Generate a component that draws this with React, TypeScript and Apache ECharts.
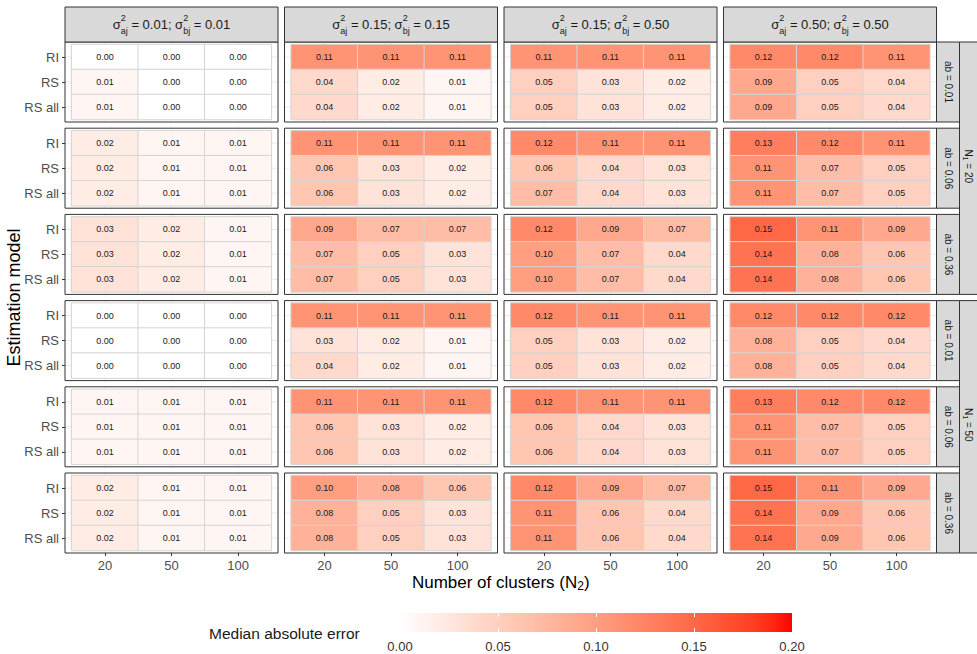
import React, { useEffect, useRef } from 'react';
import * as echarts from 'echarts';

// ---------- data ----------
const clusterSizes = ['20', '50', '100'];
const models = ['RI', 'RS', 'RS all'];
const sigmaAj = ['0.01', '0.15', '0.15', '0.50'];
const sigmaBj = ['0.01', '0.15', '0.50', '0.50'];
const abLabels = ['0.01', '0.06', '0.36'];
const n1Labels = ['20', '50'];
const legendBreaks = [0, 0.05, 0.1, 0.15, 0.2];

// each facet row: 4 panels (variance columns); each panel: rows RI, RS, RS all; values for N2 = 20, 50, 100
const n1_20_ab001 = [
  [[0.00, 0.00, 0.00], [0.01, 0.00, 0.00], [0.01, 0.00, 0.00]],
  [[0.11, 0.11, 0.11], [0.04, 0.02, 0.01], [0.04, 0.02, 0.01]],
  [[0.11, 0.11, 0.11], [0.05, 0.03, 0.02], [0.05, 0.03, 0.02]],
  [[0.12, 0.12, 0.11], [0.09, 0.05, 0.04], [0.09, 0.05, 0.04]],
];
const n1_20_ab006 = [
  [[0.02, 0.01, 0.01], [0.02, 0.01, 0.01], [0.02, 0.01, 0.01]],
  [[0.11, 0.11, 0.11], [0.06, 0.03, 0.02], [0.06, 0.03, 0.02]],
  [[0.12, 0.11, 0.11], [0.06, 0.04, 0.03], [0.07, 0.04, 0.03]],
  [[0.13, 0.12, 0.11], [0.11, 0.07, 0.05], [0.11, 0.07, 0.05]],
];
const n1_20_ab036 = [
  [[0.03, 0.02, 0.01], [0.03, 0.02, 0.01], [0.03, 0.02, 0.01]],
  [[0.09, 0.07, 0.07], [0.07, 0.05, 0.03], [0.07, 0.05, 0.03]],
  [[0.12, 0.09, 0.07], [0.10, 0.07, 0.04], [0.10, 0.07, 0.04]],
  [[0.15, 0.11, 0.09], [0.14, 0.08, 0.06], [0.14, 0.08, 0.06]],
];
const n1_50_ab001 = [
  [[0.00, 0.00, 0.00], [0.00, 0.00, 0.00], [0.00, 0.00, 0.00]],
  [[0.11, 0.11, 0.11], [0.03, 0.02, 0.01], [0.04, 0.02, 0.01]],
  [[0.12, 0.11, 0.11], [0.05, 0.03, 0.02], [0.05, 0.03, 0.02]],
  [[0.12, 0.12, 0.12], [0.08, 0.05, 0.04], [0.08, 0.05, 0.04]],
];
const n1_50_ab006 = [
  [[0.01, 0.01, 0.01], [0.01, 0.01, 0.01], [0.01, 0.01, 0.01]],
  [[0.11, 0.11, 0.11], [0.06, 0.03, 0.02], [0.06, 0.03, 0.02]],
  [[0.12, 0.11, 0.11], [0.06, 0.04, 0.03], [0.06, 0.04, 0.03]],
  [[0.13, 0.12, 0.12], [0.11, 0.07, 0.05], [0.11, 0.07, 0.05]],
];
const n1_50_ab036 = [
  [[0.02, 0.01, 0.01], [0.02, 0.01, 0.01], [0.02, 0.01, 0.01]],
  [[0.10, 0.08, 0.06], [0.08, 0.05, 0.03], [0.08, 0.05, 0.03]],
  [[0.12, 0.09, 0.07], [0.11, 0.06, 0.04], [0.11, 0.06, 0.04]],
  [[0.15, 0.11, 0.09], [0.14, 0.09, 0.06], [0.14, 0.09, 0.06]],
];
const facetRows = [n1_20_ab001, n1_20_ab006, n1_20_ab036, n1_50_ab001, n1_50_ab006, n1_50_ab036];

// ---------- layout / style ----------
const FONT = '"Liberation Sans", Arial, Helvetica, sans-serif';
const P_LEFT = 65;
const P_STEP_X = 219.5;
const P_W = 213;
const P_TOP = 42;
const P_STEP_Y = 86.2;
const P_H = 80;
const PAD_X = P_W / 32; // 0.1 of 3.2 discrete units
const PAD_Y = P_H / 32;
const STRIP_TOP = 7;
const STRIP_R_W = 23;
const BORDER = '#333333';
const STRIP_FILL = '#D9D9D9';
const GRID_LINE = '#EBEBEB';
const TEXT_Z = 10;

// ---------- colour scale: white -> red interpolated in CIELAB ----------
function toLin(c: number) {
  c /= 255;
  return c <= 0.04045 ? c / 12.92 : Math.pow((c + 0.055) / 1.055, 2.4);
}
function fromLin(c: number) {
  const v = c <= 0.0031308 ? 12.92 * c : 1.055 * Math.pow(c, 1 / 2.4) - 0.055;
  return Math.max(0, Math.min(255, Math.round(v * 255)));
}
function rgb2lab(r: number, g: number, b: number) {
  const R = toLin(r), G = toLin(g), B = toLin(b);
  const X = (0.4124564 * R + 0.3575761 * G + 0.1804375 * B) / 0.95047;
  const Y = 0.2126729 * R + 0.7151522 * G + 0.072175 * B;
  const Z = (0.0193339 * R + 0.119192 * G + 0.9503041 * B) / 1.08883;
  const f = (t: number) => (t > 0.008856 ? Math.cbrt(t) : 7.787 * t + 16 / 116);
  const fx = f(X), fy = f(Y), fz = f(Z);
  return [116 * fy - 16, 500 * (fx - fy), 200 * (fy - fz)];
}
function lab2hex(L: number, a: number, b: number) {
  const fy = (L + 16) / 116;
  const fx = fy + a / 500;
  const fz = fy - b / 200;
  const inv = (f: number) => (f * f * f > 0.008856 ? f * f * f : (f - 16 / 116) / 7.787);
  const X = inv(fx) * 0.95047, Y = inv(fy), Z = inv(fz) * 1.08883;
  const R = 3.2404542 * X - 1.5371385 * Y - 0.4985314 * Z;
  const G = -0.969266 * X + 1.8760108 * Y + 0.041556 * Z;
  const B = 0.0556434 * X - 0.2040259 * Y + 1.0572252 * Z;
  const h = (v: number) => fromLin(Math.max(0, v)).toString(16).padStart(2, '0');
  return '#' + h(R) + h(G) + h(B);
}
const LOW = rgb2lab(255, 255, 255);
const HIGH = rgb2lab(255, 0, 0);
const rampColors: string[] = [];
for (let i = 0; i <= 20; i++) {
  const t = i / 20;
  rampColors.push(lab2hex(LOW[0] + (HIGH[0] - LOW[0]) * t, LOW[1] + (HIGH[1] - LOW[1]) * t, LOW[2] + (HIGH[2] - LOW[2]) * t));
}

// ---------- text helpers ----------
let measureCtx: CanvasRenderingContext2D | null = null;
function textWidth(t: string, size: number) {
  if (!measureCtx) measureCtx = document.createElement('canvas').getContext('2d');
  if (!measureCtx) return t.length * size * 0.55;
  measureCtx.font = `${size}px "Liberation Sans", Arial, sans-serif`;
  return measureCtx.measureText(t).width;
}

type Piece =
  | { text: string; size: number; dy?: number }
  | { sup: string; sub: string; size: number; supDy: number; subDy: number };

function textEl(text: string, x: number, y: number, size: number, fill: string, align = 'left') {
  return {
    type: 'text',
    x,
    y,
    z: TEXT_Z,
    silent: true,
    style: {
      text,
      fontSize: size,
      fontFamily: FONT,
      fill,
      align,
      verticalAlign: 'middle',
      textAlign: align,
      textVerticalAlign: 'middle',
    },
  };
}

function composite(pieces: Piece[], cx: number, cy: number, rotation: number, fill: string) {
  const widths = pieces.map((p: any) =>
    'sup' in p ? Math.max(textWidth(p.sup, p.size), textWidth(p.sub, p.size)) : textWidth(p.text, p.size)
  );
  const total = widths.reduce((s, w) => s + w, 0);
  let cursor = -total / 2;
  const children: any[] = [];
  pieces.forEach((p: any, i) => {
    if ('sup' in p) {
      children.push(textEl(p.sup, cursor, p.supDy, p.size, fill));
      children.push(textEl(p.sub, cursor, p.subDy, p.size, fill));
    } else {
      children.push(textEl(p.text, cursor, p.dy || 0, p.size, fill));
    }
    cursor += widths[i];
  });
  return { type: 'group', x: cx, y: cy, rotation, z: TEXT_Z, silent: true, children };
}

function buildOption() {
  const grids: any[] = [];
  const xAxes: any[] = [];
  const yAxes: any[] = [];
  const series: any[] = [];
  const graphics: any[] = [];
  const cellW = P_W - 2 * PAD_X;
  const cellH = P_H - 2 * PAD_Y;

  facetRows.forEach((rowPanels, r) => {
    const y0 = P_TOP + r * P_STEP_Y;
    rowPanels.forEach((panel, c) => {
      const x0 = P_LEFT + c * P_STEP_X;
      const idx = grids.length;
      const gLeft = x0 + PAD_X;
      const gTop = y0 + PAD_Y;
      grids.push({ left: gLeft, top: gTop, width: cellW, height: cellH, containLabel: false });
      xAxes.push({
        gridIndex: idx,
        type: 'category',
        data: clusterSizes,
        position: 'bottom',
        offset: PAD_Y,
        axisLine: { show: false },
        axisTick: { show: r === facetRows.length - 1, alignWithLabel: true, length: 3, lineStyle: { color: BORDER } },
        axisLabel: { show: r === facetRows.length - 1, interval: 0, fontSize: 13, color: '#4D4D4D', margin: 6, fontFamily: FONT },
        splitLine: { show: false },
      });
      yAxes.push({
        gridIndex: idx,
        type: 'category',
        data: models,
        inverse: true,
        position: 'left',
        offset: PAD_X,
        axisLine: { show: false },
        axisTick: { show: c === 0, alignWithLabel: true, length: 3, lineStyle: { color: BORDER } },
        axisLabel: { show: c === 0, interval: 0, fontSize: 13, color: '#4D4D4D', margin: 6, fontFamily: FONT },
        splitLine: { show: false },
      });
      const data: number[][] = [];
      panel.forEach((vals, m) => vals.forEach((v, k) => data.push([k, m, v])));
      series.push({
        type: 'heatmap',
        xAxisIndex: idx,
        yAxisIndex: idx,
        data,
        silent: true,
        emphasis: { disabled: true },
        itemStyle: { borderColor: '#D4D4D4', borderWidth: 1 },
        label: {
          show: true,
          fontSize: 9,
          fontFamily: FONT,
          color: '#1A1A1A',
          formatter: (p: any) => Number(p.value[2]).toFixed(2),
        },
      });
      // background grid lines (theme_bw major grid)
      for (let m = 0; m < models.length; m++) {
        const yy = gTop + (m + 0.5) * (cellH / models.length);
        graphics.push({ type: 'line', z: 0, silent: true, shape: { x1: x0, y1: yy, x2: x0 + P_W, y2: yy }, style: { stroke: GRID_LINE, lineWidth: 1 } });
      }
      for (let k = 0; k < clusterSizes.length; k++) {
        const xx = gLeft + (k + 0.5) * (cellW / clusterSizes.length);
        graphics.push({ type: 'line', z: 0, silent: true, shape: { x1: xx, y1: y0, x2: xx, y2: y0 + P_H }, style: { stroke: GRID_LINE, lineWidth: 1 } });
      }
      // panel border
      graphics.push({ type: 'rect', z: 1, silent: true, shape: { x: x0, y: y0, width: P_W, height: P_H }, style: { fill: 'none', stroke: BORDER, lineWidth: 1 } });
    });
    // right strip: ab
    const ab = abLabels[r % abLabels.length];
    const sx = P_LEFT + 3 * P_STEP_X + P_W;
    graphics.push({ type: 'rect', z: 1, silent: true, shape: { x: sx, y: y0, width: STRIP_R_W, height: P_H }, style: { fill: STRIP_FILL, stroke: BORDER, lineWidth: 1 } });
    graphics.push(composite([{ text: 'ab = ' + ab, size: 10 }], sx + STRIP_R_W / 2, y0 + P_H / 2, -Math.PI / 2, '#1A1A1A'));
  });

  // right strip: N1
  const sx2 = P_LEFT + 3 * P_STEP_X + P_W + STRIP_R_W;
  n1Labels.forEach((n1, g) => {
    const yTop = P_TOP + g * 3 * P_STEP_Y;
    const yBot = P_TOP + (g * 3 + 2) * P_STEP_Y + P_H;
    graphics.push({ type: 'rect', z: 1, silent: true, shape: { x: sx2, y: yTop, width: STRIP_R_W, height: yBot - yTop }, style: { fill: STRIP_FILL, stroke: BORDER, lineWidth: 1 } });
    graphics.push(
      composite(
        [
          { text: 'N', size: 10 },
          { text: '1', size: 7, dy: 3 },
          { text: ' = ' + n1, size: 10 },
        ],
        sx2 + 9,
        (yTop + yBot) / 2 - 2,
        -Math.PI / 2,
        '#1A1A1A'
      )
    );
  });

  // top strips
  sigmaAj.forEach((sa, c) => {
    const x0 = P_LEFT + c * P_STEP_X;
    graphics.push({ type: 'rect', z: 1, silent: true, shape: { x: x0, y: STRIP_TOP, width: P_W, height: P_TOP - STRIP_TOP }, style: { fill: STRIP_FILL, stroke: BORDER, lineWidth: 1 } });
    graphics.push(
      composite(
        [
          { text: 'σ', size: 13 },
          { sup: '2', sub: 'aj', size: 9, supDy: -6.5, subDy: 6 },
          { text: ' = ' + sa + '; ', size: 13 },
          { text: 'σ', size: 13 },
          { sup: '2', sub: 'bj', size: 9, supDy: -6.5, subDy: 6 },
          { text: ' = ' + sigmaBj[c], size: 13 },
        ],
        x0 + P_W / 2,
        (STRIP_TOP + P_TOP) / 2,
        0,
        '#1A1A1A'
      )
    );
  });

  // axis titles
  const plotMidX = P_LEFT + (3 * P_STEP_X + P_W) / 2;
  const plotMidY = P_TOP + (5 * P_STEP_Y + P_H) / 2;
  graphics.push(
    composite(
      [
        { text: 'Number of clusters (N', size: 17 },
        { text: '2', size: 12, dy: 4 },
        { text: ')', size: 17 },
      ],
      plotMidX,
      582,
      0,
      '#000000'
    )
  );
  graphics.push(composite([{ text: 'Estimation model', size: 18 }], 14, plotMidY, Math.PI / 2, '#000000'));

  // legend title
  graphics.push(textEl('Median absolute error', 209, 633.5, 15.5, '#1A1A1A', 'left'));

  // legend colour bar (own grid with value axis)
  const lgIdx = grids.length;
  grids.push({ left: 400, top: 613, width: 392, height: 19 });
  const tickVals = legendBreaks.slice(1, -1);
  xAxes.push({
    gridIndex: lgIdx,
    type: 'value',
    min: legendBreaks[0],
    max: legendBreaks[legendBreaks.length - 1],
    interval: 0.05,
    position: 'bottom',
    z: 5,
    axisLine: { show: false },
    splitLine: { show: false },
    axisTick: { show: true, inside: true, length: 4, lineStyle: { color: '#FFFFFF', width: 1 }, customValues: tickVals },
    axisLabel: { show: true, fontSize: 13, color: '#333333', margin: 8, fontFamily: FONT, customValues: legendBreaks, formatter: (v: number) => v.toFixed(2) },
  });
  xAxes.push({
    gridIndex: lgIdx,
    type: 'value',
    min: legendBreaks[0],
    max: legendBreaks[legendBreaks.length - 1],
    interval: 0.05,
    position: 'top',
    z: 5,
    axisLine: { show: false },
    splitLine: { show: false },
    axisLabel: { show: false },
    axisTick: { show: true, inside: true, length: 4, lineStyle: { color: '#FFFFFF', width: 1 }, customValues: tickVals },
  });
  yAxes.push({ gridIndex: lgIdx, type: 'category', data: [''], show: false });
  const heatCount = series.length;
  series.push({
    type: 'bar',
    xAxisIndex: xAxes.length - 2,
    yAxisIndex: yAxes.length - 1,
    data: [legendBreaks[legendBreaks.length - 1]],
    barWidth: '100%',
    silent: true,
    itemStyle: {
      color: new echarts.graphic.LinearGradient(
        0,
        0,
        1,
        0,
        rampColors.map((col, i) => ({ offset: i / (rampColors.length - 1), color: col }))
      ),
    },
  });

  return {
    animation: false,
    backgroundColor: '#FFFFFF',
    textStyle: { fontFamily: FONT },
    grid: grids,
    xAxis: xAxes,
    yAxis: yAxes,
    visualMap: {
      type: 'continuous',
      show: false,
      min: legendBreaks[0],
      max: legendBreaks[legendBreaks.length - 1],
      dimension: 2,
      seriesIndex: Array.from({ length: heatCount }, (_, i) => i),
      inRange: { color: rampColors },
    },
    series,
    graphic: graphics,
  };
}

export default function App() {
  const ref = useRef<HTMLDivElement>(null);
  useEffect(() => {
    if (!ref.current) return;
    const chart = echarts.init(ref.current, undefined, { renderer: 'svg' });
    chart.setOption(buildOption() as any);
    return () => chart.dispose();
  }, []);
  return <div ref={ref} style={{ position: 'absolute', left: 0, top: 0, width: 977, height: 654 }} />;
}
